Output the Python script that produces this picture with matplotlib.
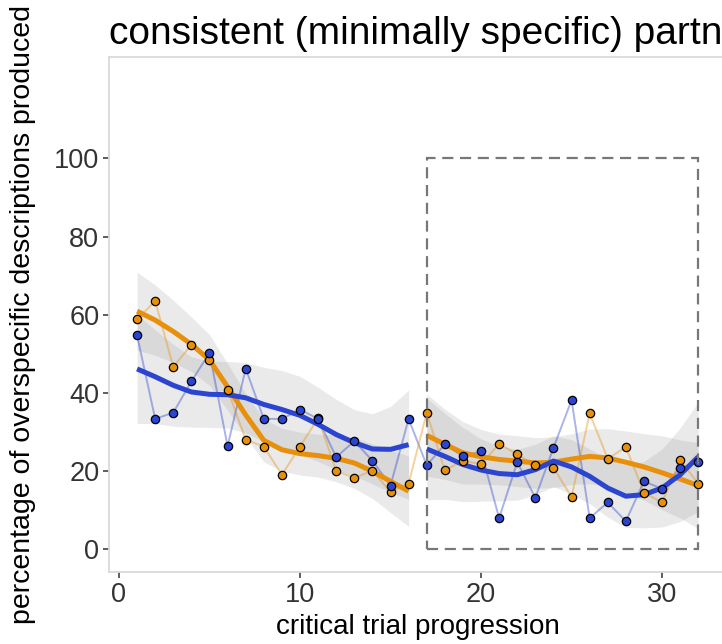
import matplotlib
matplotlib.use("Agg")
import matplotlib.pyplot as plt
from matplotlib.patches import Rectangle
import numpy as np

plt.rcParams['font.family'] = ['Liberation Sans', 'DejaVu Sans']

# trials
trials = list(range(1, 33))

# raw percentages per trial
orange_pts = [58.8, 63.5, 46.6, 52.3, 48.5, 40.8, 28.0, 26.2, 19.0, 26.2, 33.5, 20.0, 18.2, 20.0, 14.6, 16.7,
              34.9, 20.1, 22.6, 21.7, 26.9, 24.2, 21.4, 20.8, 13.3, 34.7, 23.1, 26.1, 14.4, 11.9, 22.7, 16.7]
blue_pts = [54.7, 33.3, 34.9, 42.9, 50.2, 26.3, 46.2, 33.3, 33.3, 35.7, 33.3, 23.5, 27.6, 22.6, 16.2, 33.3,
            21.4, 26.8, 23.7, 25.0, 7.9, 22.2, 13.1, 25.9, 38.1, 7.9, 11.9, 7.1, 17.3, 15.4, 20.7, 22.2]

orange_s1 = [60.9, 58.6, 55.7, 52.4, 48.4, 41.5, 34.3, 27.8, 25.4, 24.4, 23.9, 23.2, 22.0, 19.9, 17.3, 14.8]
blue_s1 = [46.1, 44.1, 41.9, 40.2, 39.6, 39.5, 38.7, 37.0, 35.7, 34.2, 31.9, 29.3, 27.2, 25.6, 25.5, 26.7]
orange_s2 = [29.1, 26.8, 24.6, 23.6, 22.9, 22.5, 22.0, 22.2, 23.0, 23.7, 23.3, 22.2, 21.0, 19.5, 17.9, 16.2]
blue_s2 = [25.6, 23.7, 21.6, 20.2, 19.3, 19.0, 20.3, 22.5, 21.0, 18.6, 15.6, 13.5, 13.9, 15.6, 19.0, 23.6]

# ribbon half widths
orange_se1 = [10, 9, 8, 7, 6.5, 6, 5.5, 5.5, 5.5, 5.5, 5.5, 6, 6.5, 7, 8, 9]
blue_se1 = [14, 12, 10.5, 9, 8.5, 8.5, 9, 9.5, 10, 10, 9.5, 9, 8.5, 9, 11, 14]
orange_se2 = [10.5, 9, 8, 7, 6.5, 6.5, 6.5, 6.5, 6.5, 7, 7.5, 8, 8.5, 9.5, 10, 11]
blue_se2 = [13, 11, 9.5, 8, 7, 6.5, 6.5, 6.5, 7, 7, 7.5, 8, 8.5, 10, 12, 14]

yticks = [0, 20, 40, 60, 80, 100]
xticks = [0, 10, 20, 30]

c_or = '#E8900C'
c_bl = '#2B45D0'

fig = plt.figure(figsize=(7.22, 6.44), dpi=100)
ax = fig.add_axes([0.151, 0.1113, 0.855, 0.8002])

x1 = np.array(trials[:16])
x2 = np.array(trials[16:])

# ribbons
for xs, s, se in [(x1, orange_s1, orange_se1), (x1, blue_s1, blue_se1),
                  (x2, orange_s2, orange_se2), (x2, blue_s2, blue_se2)]:
    s = np.array(s)
    se = np.array(se)
    ax.fill_between(xs, s - se, s + se, color='#999999', alpha=0.2, linewidth=0, zorder=1)

# thin connecting lines
ax.plot(trials, blue_pts, color=c_bl, alpha=0.4, lw=1.4, zorder=2)
ax.plot(trials, orange_pts, color=c_or, alpha=0.4, lw=1.4, zorder=2)

# smooth lines
for xs, s, c in [(x1, orange_s1, c_or), (x1, blue_s1, c_bl), (x2, orange_s2, c_or), (x2, blue_s2, c_bl)]:
    ax.plot(xs, s, color=c, lw=3.6, solid_joinstyle='round', solid_capstyle='butt', zorder=3)

# points
ax.scatter(trials, orange_pts, s=36, color=c_or, edgecolor='black', linewidth=0.9, zorder=4)
ax.scatter(trials, blue_pts, s=36, color=c_bl, edgecolor='black', linewidth=0.9, zorder=4)

# dashed box
ax.add_patch(Rectangle((17, 0), 15, 100, fill=False, edgecolor='#777777', lw=1.6,
                       linestyle=(0, (5, 3)), zorder=5))

ax.set_xlim(-0.55, 33.55)
ax.set_ylim(-6, 126)
ax.set_xticks(xticks)
ax.set_yticks(yticks)
ax.tick_params(labelsize=19.5, colors='#333333', length=4, width=1.1, pad=3)
for lab in ax.get_xticklabels() + ax.get_yticklabels():
    lab.set_color('#333333')
for sp in ax.spines.values():
    sp.set_color('#dadada')
    sp.set_linewidth(1.3)

ax.set_xlabel("critical trial progression", fontsize=20, labelpad=4)
ax.set_ylabel("percentage of overspecific descriptions produced", fontsize=20.5, labelpad=13)
ax.set_title("consistent (minimally specific) partner", fontsize=28, loc='left', pad=9)

fig.savefig("out.png", dpi=100)
